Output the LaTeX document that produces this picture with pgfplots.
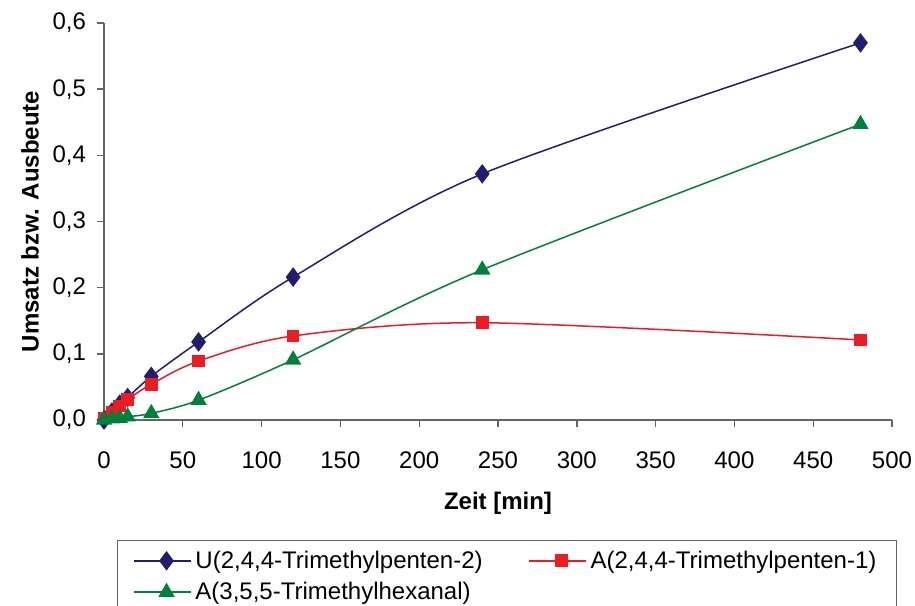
\documentclass[border=0pt]{standalone}
\usepackage{pgfplots}
\pgfplotsset{compat=1.18}
\usepackage{fontspec}
\setmainfont{Liberation Sans}
\definecolor{cblue}{RGB}{33,30,112}
\definecolor{cred}{RGB}{237,28,36}
\definecolor{cgreen}{RGB}{0,128,58}
\definecolor{axgray}{RGB}{100,100,100}
\begin{document}
\begin{tikzpicture}
\useasboundingbox (0,0) rectangle (457.5pt,302.5pt);
\begin{axis}[
  at={(52pt,92.5pt)}, anchor=south west,
  scale only axis, width=394pt, height=198.5pt,
  xmin=0, xmax=500, ymin=0, ymax=0.6,
  axis lines*=left,
  axis line style={axgray, line width=0.7pt},
  tick style={axgray, line width=0.7pt},
  tick align=outside, major tick length=3.5pt,
  xtick={0,50,...,500}, ytick={0,0.1,...,0.6},
  clip=false,
  font=\fontsize{12}{14}\selectfont,
  ticklabel style={font=\fontsize{12}{14}\selectfont},
  /pgf/number format/assume math mode=true,
  yticklabel style={/pgf/number format/fixed, /pgf/number format/fixed zerofill, /pgf/number format/precision=1, /pgf/number format/use comma, xshift=-2pt},
  xticklabel style={/pgf/number format/fixed, /pgf/number format/1000 sep={}, yshift=-9pt},
  xlabel={\bfseries Zeit [min]},
  ylabel={\bfseries Umsatz bzw. Ausbeute},
  xlabel style={at={(axis description cs:0.5,-0.21)}, anchor=center},
  ylabel style={at={(axis description cs:-0.0939,0.5)}, anchor=center},
  legend columns=2,
  legend cell align=left,
  legend style={at={(axis description cs:0.0165,-0.3023)}, anchor=north west,
    draw=axgray, line width=0.6pt, font=\fontsize{12}{14}\selectfont,
    inner xsep=8pt, inner ysep=3pt, row sep=1.5pt,
    /tikz/every even column/.append style={column sep=21pt}},
  legend image code/.code={\path (-4pt,0) -- (0,0); \draw[mark repeat=2,mark phase=2,#1] plot coordinates {(0cm,0cm) (0.425cm,0cm) (0.85cm,0cm)};},
]
\addplot[cblue, line width=0.75pt, smooth, mark=diamond*, mark size=4.3pt, mark options={solid, fill=cblue}]
coordinates {(0,0) (5,0.012) (10,0.024) (15,0.034) (30,0.066) (60,0.118) (120,0.216) (240,0.372) (480,0.570)};
\addlegendentry{U(2,4,4-Trimethylpenten-2)}
\addplot[cred, line width=0.75pt, smooth, mark=square*, mark size=2.8pt, mark options={solid, fill=cred}]
coordinates {(0,0.003) (5,0.011) (10,0.021) (15,0.031) (30,0.054) (60,0.089) (120,0.127) (240,0.147) (480,0.121)};
\addlegendentry{A(2,4,4-Trimethylpenten-1)}
\addplot[cgreen, line width=0.75pt, smooth, mark=triangle*, mark size=4pt, mark options={solid, fill=cgreen}]
coordinates {(0,0) (5,0.002) (10,0.003) (15,0.005) (30,0.010) (60,0.030) (120,0.091) (240,0.227) (480,0.447)};
\addlegendentry{A(3,5,5-Trimethylhexanal)}
\end{axis}
\end{tikzpicture}
\end{document}
